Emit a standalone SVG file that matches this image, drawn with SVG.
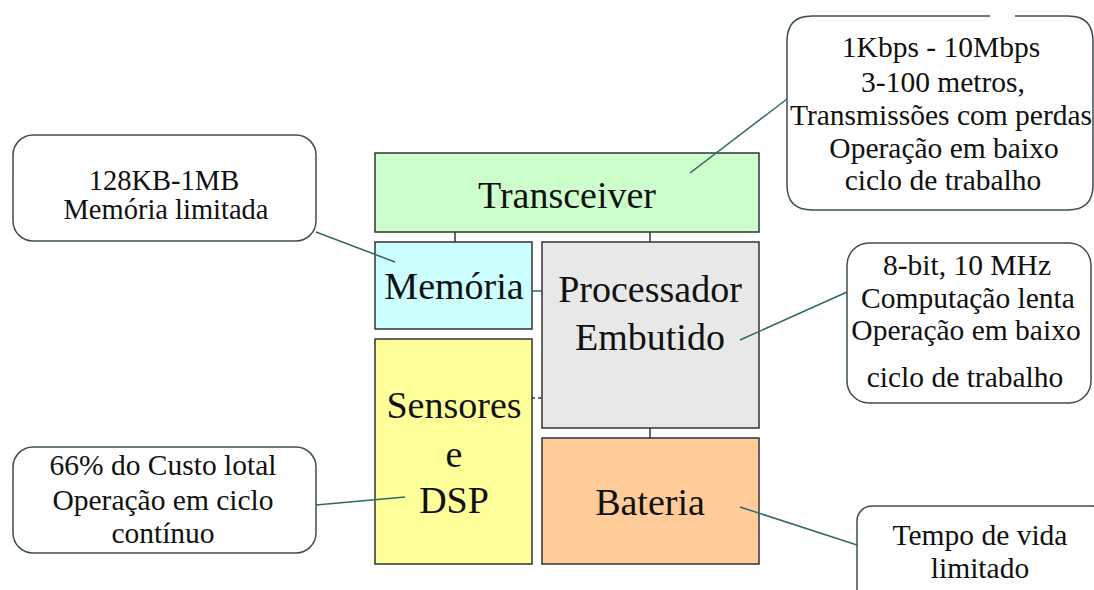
<svg xmlns="http://www.w3.org/2000/svg" width="1094" height="590" viewBox="0 0 1094 590">
<style>
.blk{stroke:#333;stroke-width:1.5}
.t{font-family:'Liberation Serif','DejaVu Serif',serif;fill:#111;text-anchor:middle}
.big{font-size:38px}
.sm{font-size:29.5px}
.sm2{font-size:28.5px}
.call{fill:#fff;stroke:#3d4f4f;stroke-width:1.5}
.ptr{stroke:#2f6868;stroke-width:1.5;fill:none}
.lnk{stroke:#333;stroke-width:1.5;fill:none}
</style>
<rect width="1094" height="590" fill="#fff"/>
<g id="transceiver">
<rect class="blk" x="375" y="153" width="384" height="79" fill="#ccffcc"/>
<text class="t big" x="567" y="208">Transceiver</text>
</g>
<g id="memoria">
<rect class="blk" x="375" y="242" width="157" height="87" fill="#ccffff"/>
<text class="t big" x="454" y="299">Memória</text>
</g>
<g id="processador">
<rect class="blk" x="542" y="242" width="217" height="186" fill="#e8e8e8"/>
<text class="t big" x="650" y="302">Processador</text>
<text class="t big" x="650" y="350">Embutido</text>
</g>
<g id="sensores">
<rect class="blk" x="375" y="339" width="157" height="225" fill="#ffff99"/>
<text class="t big" x="454" y="418">Sensores</text>
<text class="t big" x="454" y="467">e</text>
<text class="t big" x="454" y="513">DSP</text>
</g>
<g id="bateria">
<rect class="blk" x="542" y="438" width="217" height="126" fill="#ffcc99"/>
<text class="t big" x="650" y="515">Bateria</text>
</g>
<g id="connectors">
<line class="lnk" x1="455" y1="232" x2="455" y2="242"/>
<line class="lnk" x1="650" y1="232" x2="650" y2="242"/>
<line class="lnk" x1="532" y1="291" x2="542" y2="291" style="stroke:#2f6868"/>
<line class="lnk" x1="532" y1="398" x2="542" y2="398" stroke-dasharray="3,3"/>
<line class="lnk" x1="650" y1="428" x2="650" y2="438"/>
<line class="ptr" x1="690" y1="173" x2="787" y2="99"/>
<line class="ptr" x1="316" y1="232" x2="395" y2="262"/>
<line class="ptr" x1="740" y1="340" x2="847" y2="292"/>
<line class="ptr" x1="316" y1="505" x2="405" y2="497"/>
<line class="ptr" x1="740" y1="507" x2="857" y2="545"/>
</g>
<g id="callout-transceiver">
<path class="call" d="M1015,16 L1068,16 Q1093,16 1093,41 L1093,185 Q1093,210 1068,210 L812,210 Q787,210 787,185 L787,41 Q787,16 812,16 L990,16"/>
<text class="t sm" x="941" y="57">1Kbps - 10Mbps</text>
<text class="t sm" x="943" y="92">3-100 metros,</text>
<text class="t sm" x="941" y="125">Transmissões com perdas</text>
<text class="t sm" x="944" y="158">Operação em baixo</text>
<text class="t sm" x="943" y="190">ciclo de trabalho</text>
</g>
<g id="callout-memoria">
<rect class="call" x="13" y="135" width="303" height="106" rx="20"/>
<text class="t sm2" x="164" y="190">128KB-1MB</text>
<text class="t sm2" x="166" y="219">Memória limitada</text>
</g>
<g id="callout-processador">
<rect class="call" x="847" y="243" width="244" height="160" rx="22"/>
<text class="t sm" x="967" y="275">8-bit, 10 MHz</text>
<text class="t sm" x="968" y="308">Computação lenta</text>
<text class="t sm" x="966" y="340">Operação em baixo</text>
<text class="t sm" x="965" y="387">ciclo de trabalho</text>
</g>
<g id="callout-sensores">
<rect class="call" x="13" y="447" width="303" height="106" rx="20"/>
<text class="t sm" x="163" y="475">66% do Custo lotal</text>
<text class="t sm" x="163" y="510">Operação em ciclo</text>
<text class="t sm" x="163" y="543">contínuo</text>
</g>
<g id="callout-bateria">
<rect class="call" x="857" y="506" width="250" height="100" rx="15"/>
<text class="t sm" x="980" y="545">Tempo de vida</text>
<text class="t sm" x="980" y="578">limitado</text>
</g>
</svg>
